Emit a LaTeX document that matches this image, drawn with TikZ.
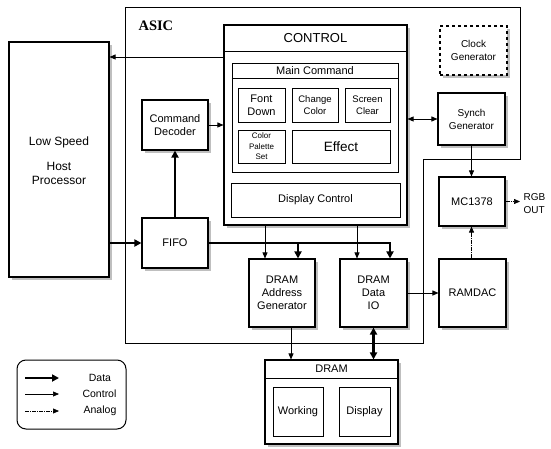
\documentclass[tikz,border=0pt]{standalone}
\usepackage{fontspec}
\setmainfont{Liberation Sans}
\newfontfamily\serifb{Liberation Serif}
\usetikzlibrary{arrows.meta,shadows,calc}
\begin{document}
\begin{tikzpicture}[x=1pt,y=-1pt,
  font=\fontsize{11}{13}\selectfont,
  shad/.style={drop shadow={shadow xshift=3pt,shadow yshift=-3pt,fill=black!25,opacity=1}},
  box/.style={draw,line width=1.1pt,fill=white,inner sep=1pt,align=center,shad},
  ibox/.style={draw,line width=0.9pt,fill=white,inner sep=1pt,align=center},
  data/.style={line width=2.3pt,-{Triangle[length=7pt,width=7pt]}},
  datab/.style={line width=2.3pt,{Triangle[length=7pt,width=7pt]}-{Triangle[length=7pt,width=7pt]}},
  ctrl/.style={line width=0.7pt,-{Triangle[length=6pt,width=5pt]}},
  ctrlb/.style={line width=0.7pt,{Triangle[length=6pt,width=5pt]}-{Triangle[length=6pt,width=5pt]}},
  analog/.style={line width=0.7pt,dash pattern=on 4pt off 1pt on 1pt off 1pt,-{Triangle[length=6pt,width=5pt]}}
]
\useasboundingbox (0,0) rectangle (551,449);

% ASIC outline
\draw[line width=1pt] (125,8) -- (520,8) -- (520,160) -- (423,160) -- (423,343) -- (125,343) -- cycle;
\node[font=\serifb\bfseries\fontsize{14.5}{16}\selectfont,anchor=west] (asic) at (135,26) {ASIC};

% Host
\node[box,minimum width=100,minimum height=235] (host) at (59,159.5) {};
\node[font=\fontsize{12}{14}\selectfont,align=center] (hosttxt) at (59,161) {Low Speed\\[11pt]Host\\Processor};

% CONTROL
\node[box,minimum width=183,minimum height=200] (control) at (315.5,125) {};
\node[font=\fontsize{13}{15}\selectfont] (ctitle) at (315.5,38.5) {CONTROL};
\draw[line width=0.9pt] (control.west |- 0,51) -- (control.east |- 0,51);

\node[ibox,minimum width=166,minimum height=109] (maincmd) at (315,117.5) {};
\node (mctitle) at (315,70.5) {Main Command};
\draw[line width=0.9pt] (maincmd.west |- 0,78) -- (maincmd.east |- 0,78);

\node[ibox,minimum width=47,minimum height=34] (font) at (261.5,105) {Font\\Down};
\node[ibox,minimum width=46,minimum height=34,font=\fontsize{9.5}{12}\selectfont] (change) at (315,105) {Change\\Color};
\node[ibox,minimum width=45,minimum height=34,font=\fontsize{9.5}{12}\selectfont] (screen) at (367.5,105) {Screen\\Clear};
\node[ibox,minimum width=47,minimum height=33,font=\fontsize{8}{10.5}\selectfont] (palette) at (261.5,146.5) {Color\\Palette\\Set};
\node[ibox,minimum width=98,minimum height=33,font=\fontsize{13.5}{15}\selectfont] (effect) at (341,146.5) {Effect};
\node[ibox,minimum width=169,minimum height=34] (dispctl) at (315.5,200) {Display Control};

% right column
\node[box,dashed,minimum width=67,minimum height=49,font=\fontsize{10}{13}\selectfont] (clock) at (473.5,50.5) {Clock\\Generator};
\node[box,minimum width=67,minimum height=52,font=\fontsize{10}{13}\selectfont] (synch) at (471.5,119) {Synch\\Generator};
\node[box,minimum width=66,minimum height=49] (mc) at (472,201.5) {MC1378};
\node[box,minimum width=67,minimum height=68] (ramdac) at (472.5,293) {RAMDAC};
\node[font=\fontsize{10}{13}\selectfont,align=left,anchor=west] (rgb) at (520,204) {RGB\\OUT};

% middle
\node[box,minimum width=66,minimum height=50] (cmddec) at (175,125) {Command\\Decoder};
\node[box,minimum width=66,minimum height=50] (fifo) at (175,243) {FIFO};
\node[box,minimum width=66,minimum height=68] (addr) at (282,293) {DRAM\\Address\\Generator};
\node[box,minimum width=67,minimum height=68] (dataio) at (373.5,293) {DRAM\\Data\\IO};

% DRAM
\node[box,minimum width=133,minimum height=84] (dram) at (331.5,402) {};
\node (dtitle) at (331.5,369) {DRAM};
\draw[line width=0.9pt] (dram.west |- 0,378) -- (dram.east |- 0,378);
\node[ibox,minimum width=50,minimum height=49] (working) at (298,411.5) {Working};
\node[ibox,minimum width=51,minimum height=49] (display) at (364.5,411.5) {Display};

% connectors
\draw[ctrl] (control.west |- 0,57) -- (host.east |- 0,57);
\draw[ctrl] (cmddec.east) -- (control.west |- cmddec.east);
\draw[data] (fifo.north) -- (cmddec.south);
\draw[data] (host.east |- fifo.west) -- (fifo.west);
\draw[data] (fifo.east) -| ([xshift=16.5pt]dataio.north);
\draw[data] ([xshift=16pt]addr.north |- fifo.east) -- ([xshift=16pt]addr.north);
\draw[ctrl] ([xshift=-17pt]addr.north |- control.south) -- ([xshift=-17pt]addr.north);
\draw[ctrl] ([xshift=-16.5pt]dataio.north |- control.south) -- ([xshift=-16.5pt]dataio.north);
\draw[ctrlb] (control.east |- synch.west) -- (synch.west);
\draw[ctrl] (synch.south) -- (synch.south |- mc.north);
\draw[analog] (ramdac.north -| synch.south) -- (mc.south -| synch.south);
\draw[analog] (mc.east) -- (rgb.west |- mc.east);
\draw[ctrl,line width=0.9pt] (dataio.east) -- (ramdac.west);
\draw[ctrl] ([xshift=9pt]addr.south) -- ([xshift=9pt]addr.south |- dram.north);
\draw[datab] (dataio.south) -- (dataio.south |- dram.north);

% legend
\node[draw,line width=1pt,rounded corners=9pt,minimum width=109,minimum height=69] (legend) at (71.5,394.5) {};
\coordinate (la1) at (25,378); \coordinate (lb1) at (59,378);
\coordinate (la2) at (25,394); \coordinate (lb2) at (59,394);
\coordinate (la3) at (25,411); \coordinate (lb3) at (59,411);
\draw[data] (la1) -- (lb1);
\draw[ctrl] (la2) -- (lb2);
\draw[analog] (la3) -- (lb3);
\node[font=\fontsize{10.5}{12}\selectfont] (ld) at (100,378) {Data};
\node[font=\fontsize{10.5}{12}\selectfont] (lc) at (99.5,394) {Control};
\node[font=\fontsize{10.5}{12}\selectfont] (lan) at (100,411) {Analog};
\end{tikzpicture}
\end{document}
